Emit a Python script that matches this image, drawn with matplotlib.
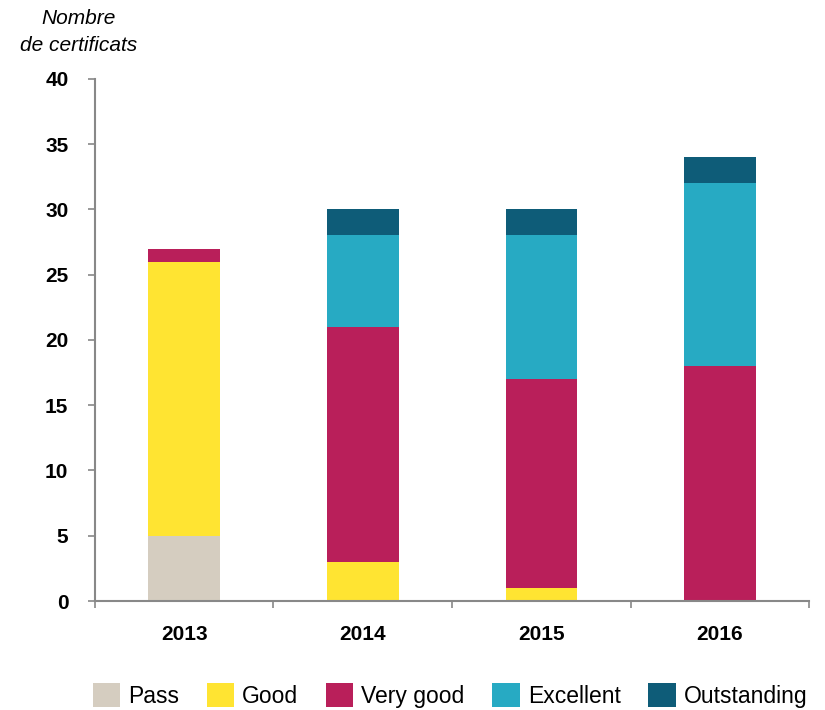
import matplotlib
matplotlib.use("Agg")
import matplotlib.pyplot as plt
import numpy as np

years = ["2013", "2014", "2015", "2016"]
categories = ["Pass", "Good", "Very good", "Excellent", "Outstanding"]
pass_counts = [5, 0, 0, 0]
good_counts = [21, 3, 1, 0]
very_good_counts = [1, 18, 16, 18]
excellent_counts = [0, 7, 11, 14]
outstanding_counts = [0, 2, 2, 2]

colors = ["#D5CDC0", "#FFE432", "#B91F5A", "#27AAC3", "#0E5C78"]


def main():
    plt.rcParams["font.family"] = ["Liberation Sans", "DejaVu Sans"]

    fig = plt.figure(figsize=(8.25, 7.1), dpi=100)
    ax = fig.add_axes([0.115, 0.1535, 0.866, 0.7355])

    series = [pass_counts, good_counts, very_good_counts, excellent_counts, outstanding_counts]
    x = np.arange(len(years))
    bottom = np.zeros(len(years))
    for name, values, color in zip(categories, series, colors):
        ax.bar(x, values, width=0.4, bottom=bottom, color=color, label=name)
        bottom += np.array(values)

    ax.set_xlim(-0.5, len(years) - 0.5)
    ax.set_ylim(0, 40)
    ax.set_yticks(range(0, 41, 5))
    ax.set_xticks(x)
    ax.set_xticklabels(years, fontsize=15, fontweight="bold")
    ax.tick_params(axis="x", which="major", length=0, pad=17)
    ax.set_xticks(np.arange(-0.5, len(years)), minor=True)
    ax.tick_params(axis="x", which="minor", length=5, color="#888888", width=1.2)
    ax.tick_params(axis="y", length=5, color="#888888", width=1.2, pad=14)
    for label in ax.get_yticklabels():
        label.set_fontsize(15)
        label.set_fontweight("bold")

    for side in ["top", "right"]:
        ax.spines[side].set_visible(False)
    for side in ["left", "bottom"]:
        ax.spines[side].set_color("#888888")
        ax.spines[side].set_linewidth(1.5)

    fig.text(0.095, 0.987, "Nombre\nde certificats", ha="center", va="top",
             fontsize=15, style="italic", linespacing=1.5)

    # legend patches drawn as squares below the axis
    handles, labels = ax.get_legend_handles_labels()
    fig.legend(handles, labels, loc="center", bbox_to_anchor=(0.5455, 0.0204), ncol=5,
               frameon=False, fontsize=16.5, handlelength=1.2, handleheight=1.2,
               handletextpad=0.35, columnspacing=1.2, borderaxespad=0, borderpad=0)

    fig.savefig("out.png", dpi=100)


if __name__ == "__main__":
    main()
